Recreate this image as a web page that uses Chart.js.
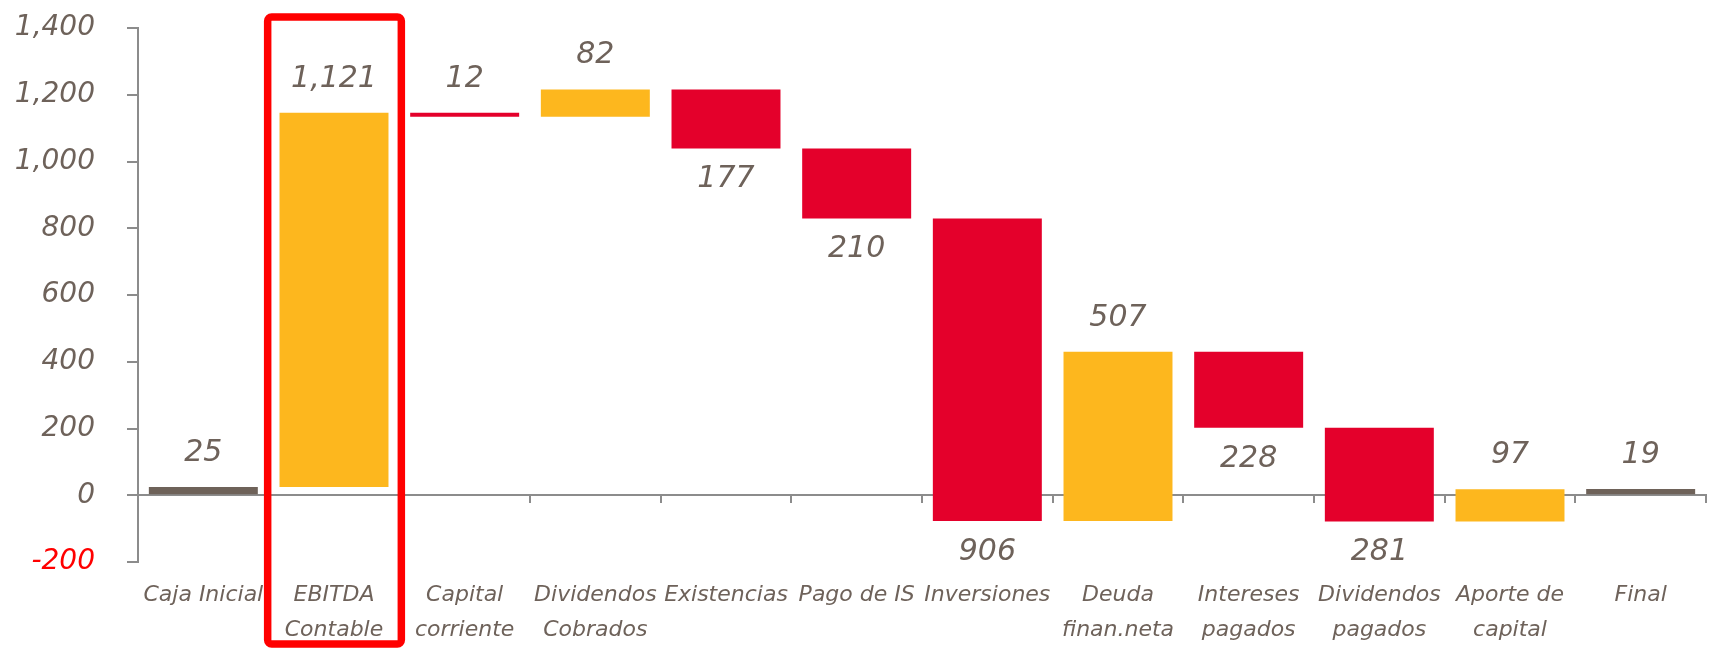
<!DOCTYPE html>
<html>
<head>
<meta charset="utf-8">
<script src="https://cdn.jsdelivr.net/npm/chart.js@4.4.1/dist/chart.umd.min.js"></script>
<style>
  body { margin: 0; background: #fff; }
</style>
</head>
<body>
<canvas id="cash-flow-chart" width="1710" height="650"></canvas>
<script>
const categories = [
    ['Caja Inicial'],
    ['EBITDA', 'Contable'],
    ['Capital', 'corriente'],
    ['Dividendos', 'Cobrados'],
    ['Existencias'],
    ['Pago de IS'],
    ['Inversiones'],
    ['Deuda', 'finan.neta'],
    ['Intereses', 'pagados'],
    ['Dividendos', 'pagados'],
    ['Aporte de', 'capital'],
    ['Final']
]
const movements = [25, 1121, -12, 82, -177, -210, -906, 507, -228, -281, 97, 19]
const isTotal = [true, false, false, false, false, false, false, false, false, false, false, true]
const yMin = -200
const yMax = 1400
const yStep = 200
const highlighted = 1

const textColor = '#6e625a'
const axisColor = '#8c8c8c'
const font = '"DejaVu Sans", sans-serif'

// floating bars: totals start at zero, the rest start where the previous one ended
let running = 0
const ranges = movements.map((v, i) => {
    if (isTotal[i]) {
        running = v
        return [0, v]
    }
    const r = [running, running + v]
    running += v
    return r
})
const colors = movements.map((v, i) => isTotal[i] ? '#6e6259' : (v < 0 ? '#e4002b' : '#fdb71e'))

const valueLabels = {
    id: 'valueLabels',
    afterDatasetsDraw(chart) {
        const ctx = chart.ctx
        ctx.save()
        ctx.font = 'italic 30px ' + font
        ctx.fillStyle = textColor
        ctx.textAlign = 'center'
        ctx.textBaseline = 'middle'
        chart.getDatasetMeta(0).data.forEach((bar, i) => {
            const {x, y, base} = bar.getProps(['x', 'y', 'base'], true)
            const top = Math.min(y, base)
            const bottom = Math.max(y, base)
            // thin bars keep their label on top, like the reference
            const below = movements[i] < 0 && bottom - top > 10
            const ly = below ? bottom + 31 : top - 34
            ctx.fillText(Math.abs(movements[i]).toLocaleString('en-US'), x, ly)
        })
        ctx.restore()
    }
}

const highlightBox = {
    id: 'highlightBox',
    afterDraw(chart) {
        const ctx = chart.ctx
        const x = chart.scales.x
        const step = x.width / categories.length
        const cx = x.getPixelForValue(highlighted)
        const top = chart.chartArea.top - 11
        const bottom = chart.height - 6
        ctx.save()
        ctx.strokeStyle = '#ff0000'
        ctx.lineWidth = 7.5
        ctx.beginPath()
        ctx.roundRect(cx - step / 2 - 1, top, step + 3, bottom - top, 4)
        ctx.stroke()
        ctx.restore()
    }
}

new Chart('cash-flow-chart', {
    type: 'bar',
    data: {
        labels: categories,
        datasets: [{
            data: ranges,
            backgroundColor: colors,
            borderWidth: 0,
            barPercentage: 0.834,
            categoryPercentage: 1
        }]
    },
    options: {
        responsive: false,
        animation: false,
        layout: { padding: { top: 28, right: 4, left: 0, bottom: 0 } },
        plugins: {
            legend: { display: false },
            tooltip: { enabled: false }
        },
        scales: {
            x: {
                type: 'category',
                position: { y: 0 },
                offset: true,
                z: 1,
                grid: { display: true, offset: true, drawOnChartArea: false, drawTicks: true, tickLength: 7, color: axisColor, lineWidth: 2 },
                border: { display: true, color: axisColor, width: 2 },
                ticks: { display: false }
            },
            x2: {
                type: 'category',
                position: 'bottom',
                offset: true,
                grid: { display: false, drawTicks: false },
                border: { display: false },
                ticks: {
                    color: textColor,
                    font: { family: font, size: 22, style: 'italic', lineHeight: 35 / 22 },
                    padding: 16,
                    maxRotation: 0,
                    autoSkip: false
                },
                afterFit(scale) { scale.height = 88 }
            },
            y: {
                min: yMin,
                max: yMax,
                grid: { display: true, drawOnChartArea: false, tickLength: 11, color: axisColor, lineWidth: 2 },
                border: { display: true, color: axisColor, width: 2 },
                ticks: {
                    stepSize: yStep,
                    padding: 32,
                    color: ctx => ctx.tick.value < 0 ? '#ff0000' : textColor,
                    font: { family: font, size: 28, style: 'italic' },
                    callback: v => v.toLocaleString('en-US')
                },
                afterFit(scale) {
                    scale.width = 138
                    // tick padding is horizontal here, don't let it push the plot down
                    scale.paddingTop = 0
                    scale.paddingBottom = 0
                }
            }
        }
    },
    plugins: [valueLabels, highlightBox]
})
</script>
</body>
</html>
